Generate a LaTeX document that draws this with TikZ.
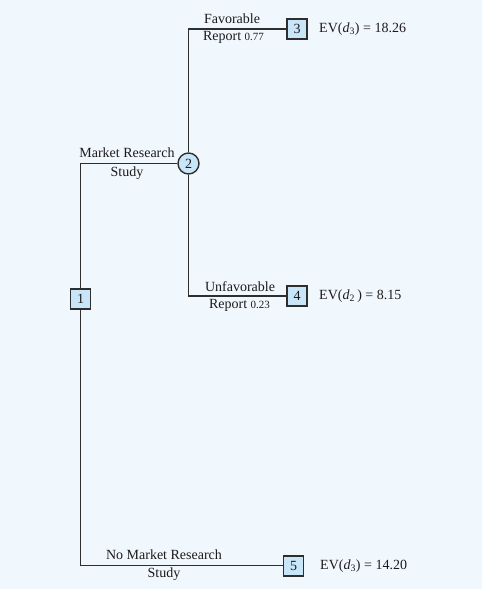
\documentclass[tikz,border=0pt]{standalone}
\usepackage{fontspec}
\setmainfont{Liberation Serif}
\definecolor{bgc}{HTML}{F0F8FE}
\definecolor{nodefill}{HTML}{C8E6F8}
\definecolor{linec}{HTML}{2E2E2E}
\definecolor{txt}{HTML}{1E1A1B}
\begin{document}
\begin{tikzpicture}[x=1pt,y=-1pt,
  every node/.style={text=txt, font=\fontsize{14}{16}\selectfont, inner sep=0pt},
  dec/.style={draw=linec, line width=1.4pt, fill=nodefill, minimum width=20pt, minimum height=20pt},
  chance/.style={circle, draw=linec, line width=1.4pt, fill=nodefill, minimum size=21pt},
  branch/.style={draw=linec, line width=1.4pt},
  lbl/.style={anchor=center},
  ev/.style={anchor=west}]
\fill[bgc] (0,0) rectangle (482,589);
\useasboundingbox (0,0) rectangle (482,589);
% coordinates
\coordinate (c1) at (80.5,163.5);
\coordinate (c5) at (80.5,565.5);
\coordinate (c3) at (188.5,29);
\coordinate (c4) at (188.5,296);
% nodes
\node[dec] (n1) at (80.5,299) {1};
\node[chance] (n2) at (188.5,163.5) {2};
\node[dec] (n3) at (297,29) {3};
\node[dec] (n4) at (297,296) {4};
\node[dec] (n5) at (293.5,566) {5};
% branches
\draw[branch] (n1.north) -- (c1) -- (n2.west);
\draw[branch] (n1.south) -- (c5) -- (n5.west |- c5);
\draw[branch] (n2.north) -- (c3) -- (n3.west);
\draw[branch] (n2.south) -- (c4) -- (n4.west);
% labels
\node[lbl] (l1a) at (127,153) {Market Research};
\node[lbl] (l1b) at (127,173) {Study};
\node[lbl] (l3a) at (232,18.5) {Favorable};
\node[lbl] (l3b) at (233.5,37.5) {Report {\fontsize{11}{12}\selectfont 0.77}};
\node[lbl] (l4a) at (240,287) {Unfavorable};
\node[lbl] (l4b) at (239.5,305) {Report {\fontsize{11}{12}\selectfont 0.23}};
\node[lbl] (l5a) at (164,555) {No Market Research};
\node[lbl] (l5b) at (164,574.5) {Study};
% EVs
\node[ev] (e3) at (319,29) {EV(\textit{d}\textsubscript{3}) = 18.26};
\node[ev] (e4) at (319,296) {EV(\textit{d}\textsubscript{2}\,) = 8.15};
\node[ev] (e5) at (320,566) {EV(\textit{d}\textsubscript{3}) = 14.20};
\end{tikzpicture}
\end{document}
